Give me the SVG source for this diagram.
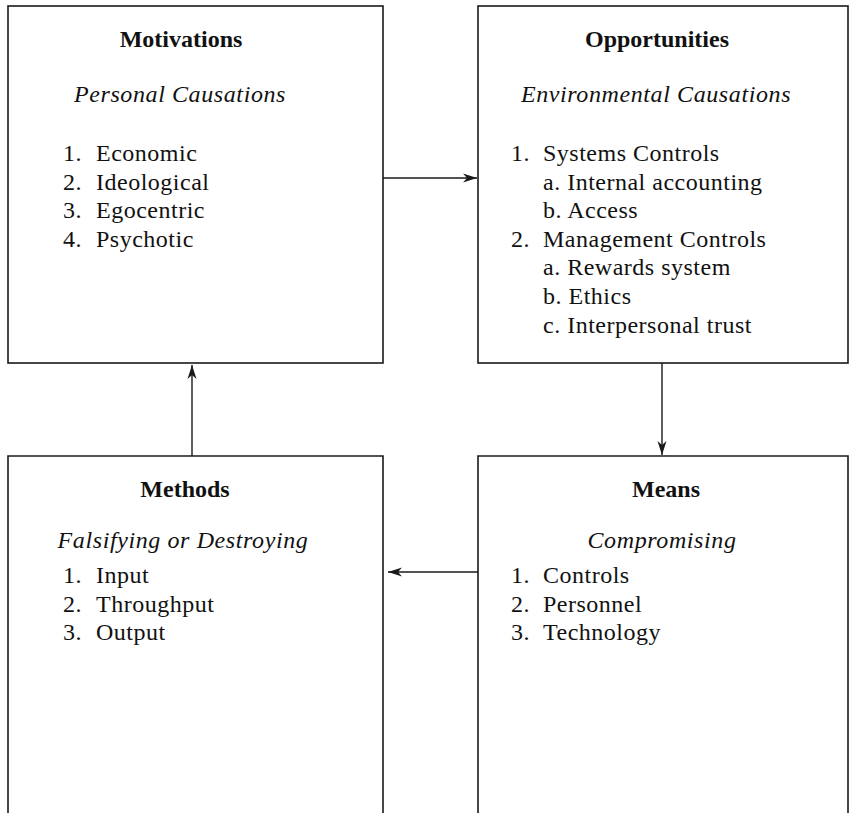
<svg xmlns="http://www.w3.org/2000/svg" width="849" height="813" viewBox="0 0 849 813">
<style>
  .box { fill: none; stroke: #1a1a1a; stroke-width: 1.6; }
  .conn { fill: none; stroke: #1a1a1a; stroke-width: 1.4; }
  text { font-family: "Liberation Serif", "Times New Roman", serif; font-size: 24px; fill: #111; }
  .title { font-weight: bold; text-anchor: middle; }
  .sub { font-style: italic; text-anchor: middle; letter-spacing: 0.6px; }
  .item { letter-spacing: 0.5px; }
</style>
<defs>
  <marker id="arrow" markerUnits="userSpaceOnUse" markerWidth="16" markerHeight="12" viewBox="-15 -6 16 12" refX="0" refY="0" orient="auto">
    <path d="M0,0 L-14,-4.5 L-10,0 L-14,4.5 Z" fill="#1a1a1a"/>
  </marker>
</defs>

<g id="motivations">
  <rect class="box" x="8" y="6" width="375" height="357"/>
  <text class="title" x="181" y="47">Motivations</text>
  <text class="sub" x="180" y="102">Personal Causations</text>
  <text class="item" y="161"><tspan x="63">1.</tspan><tspan x="96">Economic</tspan></text>
  <text class="item" y="189.6"><tspan x="63">2.</tspan><tspan x="96">Ideological</tspan></text>
  <text class="item" y="218.2"><tspan x="63">3.</tspan><tspan x="96">Egocentric</tspan></text>
  <text class="item" y="246.8"><tspan x="63">4.</tspan><tspan x="96">Psychotic</tspan></text>
</g>

<g id="opportunities">
  <rect class="box" x="478" y="6" width="370" height="357"/>
  <text class="title" x="657" y="47">Opportunities</text>
  <text class="sub" x="656" y="102">Environmental Causations</text>
  <text class="item" y="161"><tspan x="511">1.</tspan><tspan x="543">Systems Controls</tspan></text>
  <text class="item" x="543" y="189.6">a. Internal accounting</text>
  <text class="item" x="543" y="218.2">b. Access</text>
  <text class="item" y="246.8"><tspan x="511">2.</tspan><tspan x="543">Management Controls</tspan></text>
  <text class="item" x="543" y="275.4">a. Rewards system</text>
  <text class="item" x="543" y="304">b. Ethics</text>
  <text class="item" x="543" y="332.6">c. Interpersonal trust</text>
</g>

<g id="methods">
  <path class="box" d="M8,820 L8,456 L383,456 L383,820"/>
  <text class="title" x="185" y="497">Methods</text>
  <text class="sub" x="183" y="548">Falsifying or Destroying</text>
  <text class="item" y="583"><tspan x="63">1.</tspan><tspan x="96">Input</tspan></text>
  <text class="item" y="611.6"><tspan x="63">2.</tspan><tspan x="96">Throughput</tspan></text>
  <text class="item" y="640.2"><tspan x="63">3.</tspan><tspan x="96">Output</tspan></text>
</g>

<g id="means">
  <path class="box" d="M478,820 L478,456 L848,456 L848,820"/>
  <text class="title" x="666" y="497">Means</text>
  <text class="sub" x="662" y="548">Compromising</text>
  <text class="item" y="583"><tspan x="511">1.</tspan><tspan x="543">Controls</tspan></text>
  <text class="item" y="611.6"><tspan x="511">2.</tspan><tspan x="543">Personnel</tspan></text>
  <text class="item" y="640.2"><tspan x="511">3.</tspan><tspan x="543">Technology</tspan></text>
</g>

<g id="connectors">
  <line class="conn" x1="383" y1="178" x2="477" y2="178" marker-end="url(#arrow)"/>
  <line class="conn" x1="662" y1="363" x2="662" y2="455" marker-end="url(#arrow)"/>
  <line class="conn" x1="478" y1="572" x2="388" y2="572" marker-end="url(#arrow)"/>
  <line class="conn" x1="192" y1="456" x2="192" y2="365" marker-end="url(#arrow)"/>
</g>
</svg>
